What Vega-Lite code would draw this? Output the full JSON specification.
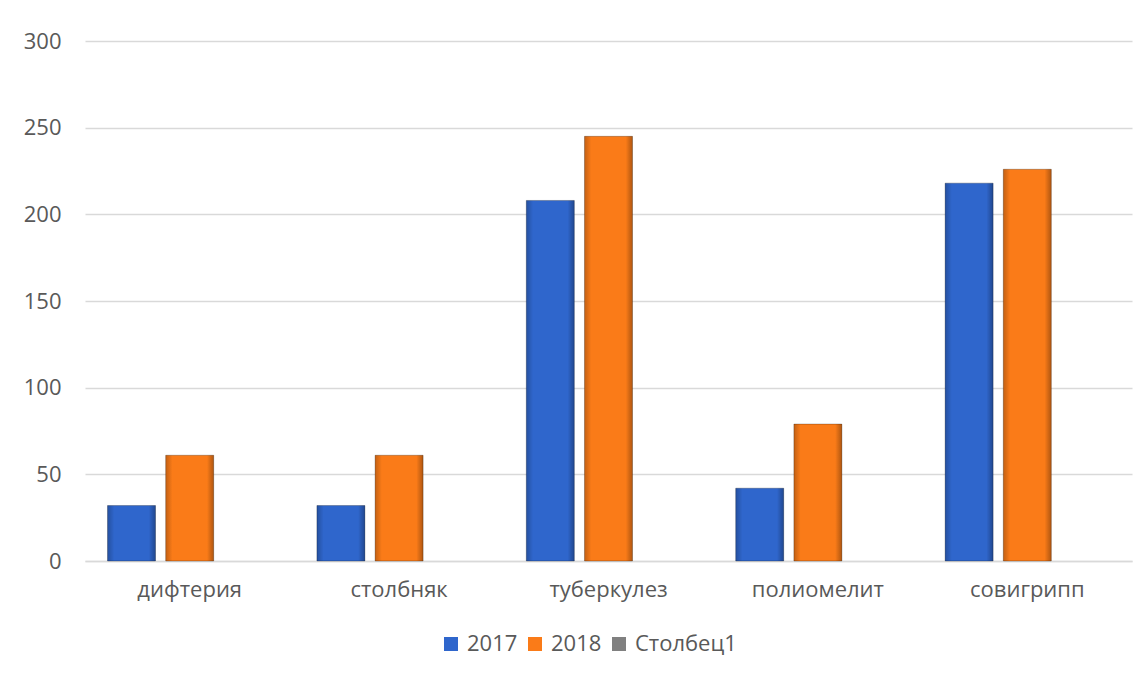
{
  "$schema": "https://vega.github.io/schema/vega-lite/v6.json",
  "width": 1047,
  "height": 520,
  "autosize": {"type": "none"},
  "padding": {"left": 85, "top": 41, "right": 16, "bottom": 116},
  "background": "white",
  "config": {
    "font": "Open Sans",
    "view": {"stroke": null},
    "axis": {"labelFont": "Open Sans", "labelFontSize": 22, "labelColor": "#595959", "gridColor": "#D9D9D9", "gridWidth": 1.5, "domainColor": "#D9D9D9", "domainWidth": 1.5, "ticks": false, "title": null},
    "legend": {"labelFont": "Open Sans", "labelFontSize": 22, "labelColor": "#595959"}
  },
  "data": {
    "values": [
      {"disease": "дифтерия", "series": "2017", "value": 32},
      {"disease": "дифтерия", "series": "2018", "value": 61},
      {"disease": "столбняк", "series": "2017", "value": 32},
      {"disease": "столбняк", "series": "2018", "value": 61},
      {"disease": "туберкулез", "series": "2017", "value": 208},
      {"disease": "туберкулез", "series": "2018", "value": 245},
      {"disease": "полиомелит", "series": "2017", "value": 42},
      {"disease": "полиомелит", "series": "2018", "value": 79},
      {"disease": "совигрипп", "series": "2017", "value": 218},
      {"disease": "совигрипп", "series": "2018", "value": 226}
    ]
  },
  "encoding": {
    "x": {
      "field": "disease", "type": "nominal",
      "scale": {"domain": ["дифтерия", "столбняк", "туберкулез", "полиомелит", "совигрипп"], "paddingInner": 0.215, "paddingOuter": 0.1075},
      "axis": {"labelAngle": 0, "labelPadding": 18, "grid": false, "domain": true}
    },
    "xOffset": {
      "field": "series", "type": "nominal",
      "scale": {"domain": ["2017", "2018", "Столбец1"], "paddingInner": 0.175, "paddingOuter": 0}
    },
    "y": {
      "field": "value", "type": "quantitative",
      "scale": {"domain": [0, 300], "nice": false},
      "axis": {"values": [0, 50, 100, 150, 200, 250, 300], "domain": false, "labelPadding": 24, "grid": true}
    }
  },
  "layer": [
    {
      "mark": {"type": "bar", "stroke": "rgba(0,0,0,0.25)", "strokeWidth": 1},
      "encoding": {
        "color": {
          "field": "series", "type": "nominal",
          "scale": {"domain": ["2017", "2018", "Столбец1"], "range": ["#2F66CC", "#FA7B18", "#808080"]},
          "legend": {
            "title": null, "orient": "none", "direction": "horizontal",
            "legendX": 355, "legendY": 592, "padding": 0,
            "symbolType": "square", "symbolSize": 196, "symbolStrokeWidth": 0,
            "labelOffset": 5, "columnPadding": 6
          }
        }
      }
    },
    {
      "mark": {
        "type": "bar",
        "color": {
          "gradient": "linear", "x1": 0, "y1": 0, "x2": 1, "y2": 0,
          "stops": [
            {"offset": 0, "color": "rgba(0,0,0,0.22)"},
            {"offset": 0.14, "color": "rgba(0,0,0,0)"},
            {"offset": 0.86, "color": "rgba(0,0,0,0)"},
            {"offset": 1, "color": "rgba(0,0,0,0.3)"}
          ]
        }
      }
    }
  ]
}
